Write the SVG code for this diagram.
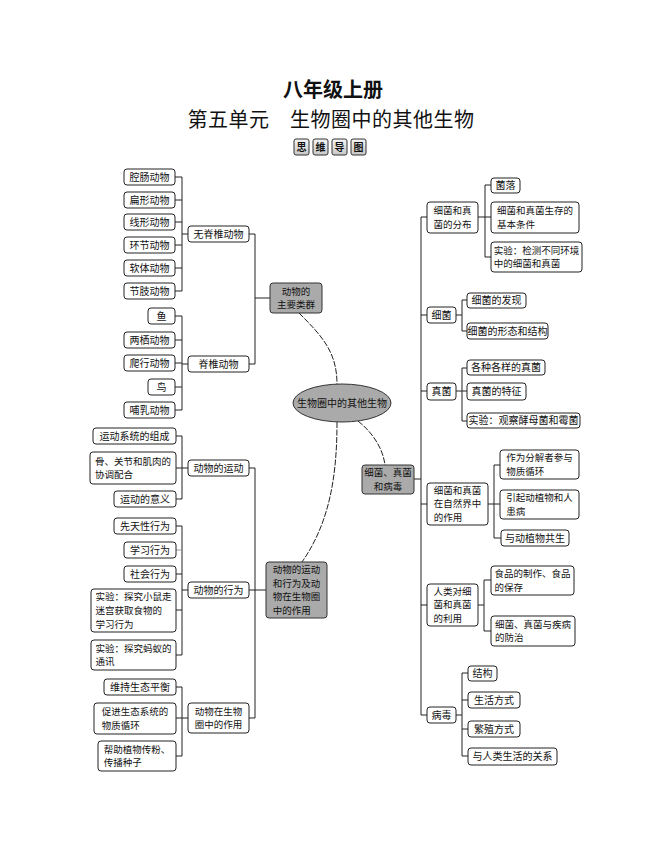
<svg xmlns="http://www.w3.org/2000/svg" width="662" height="867" viewBox="0 0 662 867">
<defs>
<linearGradient id="btn" x1="0" y1="0" x2="0" y2="1">
<stop offset="0" stop-color="#f4f4f4"/>
<stop offset="1" stop-color="#c8c8c8"/>
</linearGradient>
<style>
.b{fill:#fff;stroke:#222;stroke-width:1}
.g{fill:#aaaaaa;stroke:#333;stroke-width:1}
.t{font-family:"Noto Sans CJK SC","Noto Sans",sans-serif;font-size:10px;fill:#111}
.s{font-family:"Noto Sans CJK SC","Noto Sans",sans-serif;font-size:9.5px;fill:#111}
.m{text-anchor:middle}
.c{fill:none;stroke:#222;stroke-width:1}
.d{fill:none;stroke:#222;stroke-width:1;stroke-dasharray:6 1.5}
.btnr{fill:url(#btn);stroke:#333;stroke-width:1}
.btnt{font-family:"Noto Sans CJK SC","Noto Sans",sans-serif;font-size:10px;font-weight:bold;text-anchor:middle;fill:#111}
</style>
</defs>
<rect width="662" height="867" fill="#fff"/>
<g id="title">
<text x="333" y="97.4" text-anchor="middle" font-family="Noto Sans CJK SC, sans-serif" font-size="20" font-weight="bold" fill="#111">八年级上册</text>
<text x="331" y="126.5" text-anchor="middle" font-family="Noto Sans CJK SC, sans-serif" font-size="20" letter-spacing="0.5" fill="#111">第五单元　生物圈中的其他生物</text>
<rect class="btnr" x="294" y="139" width="15" height="16" rx="2"/><text class="btnt" x="301.5" y="151">思</text>
<rect class="btnr" x="313" y="139" width="15" height="16" rx="2"/><text class="btnt" x="320.5" y="151">维</text>
<rect class="btnr" x="332" y="139" width="15" height="16" rx="2"/><text class="btnt" x="339.5" y="151">导</text>
<rect class="btnr" x="351" y="139" width="15" height="16" rx="2"/><text class="btnt" x="358.5" y="151">图</text>
</g>
<g id="connectors">
<path class="c" d="M175,177H182M175,200H182M175,222H182M175,245H182M175,268H182M175,291H182M182,177V291M182,234H188"/>
<path class="c" d="M175,316H182M175,340H182M175,363H182M175,387H182M175,410H182M182,316V410M182,364H188"/>
<path class="c" d="M249,234H255M249,364H255M255,234V364M255,298H270"/>
<path class="c" d="M176,436H182M176,468H182M176,499H182M182,436V499M182,468H188"/>
<path class="c" d="M176,526H182M176,574H182M176,610H182M176,655H182M182,526V655M182,590H188"/>
<path d="M176,550H182" fill="none" stroke="#999" stroke-width="1"/>
<path class="c" d="M176,687H182M176,718H182M176,756H182M182,687V756M182,718H188"/>
<path class="c" d="M249,468H255M249,590H255M249,718H255M255,468V718M255,590H266"/>
<path class="c" d="M414,479H421M421,217V715M421,217H427M421,315H427M421,391H427M421,504H427M421,605H427M421,715H427"/>
<path class="c" d="M478,217H485M485,185V257M485,185H491M485,217H491M485,257H491"/>
<path class="c" d="M456,315H462M462,300V331M462,300H467M462,331H467"/>
<path class="c" d="M456,391H462M462,368V421M462,368H467M462,391H467M462,421H467"/>
<path class="c" d="M488,504H494M494,465V538M494,465H500M494,504H500M494,538H501"/>
<path class="c" d="M478,605H484M484,580V631M484,580H491M484,631H491"/>
<path class="c" d="M456,715H462M462,673V756M462,673H468M462,700H468M462,729H468M462,756H468"/>
<path class="d" d="M299,313C322,336 337,352 337,384"/>
<path class="d" d="M337,422C337,475 330,522 302,562"/>
<path class="d" d="M358,421C372,432 383,448 385,465"/>
</g>
<g id="center">
<ellipse cx="342" cy="403" rx="49" ry="19" class="g"/>
<text class="t m" x="342" y="406.5">生物圈中的其他生物</text>
</g>
<g id="n-g1"><rect class="g" x="270" y="283" width="52" height="30" rx="3"/><text class="s m" x="296" y="294.5">动物的<tspan x="296" dy="13.8">主要类群</tspan></text></g>
<g id="n-a1"><rect class="b" x="124" y="169" width="51" height="16" rx="3"/><text class="t m" x="149.5" y="180.5">腔肠动物</text></g>
<g id="n-a2"><rect class="b" x="124" y="192" width="51" height="16" rx="3"/><text class="t m" x="149.5" y="203.5">扁形动物</text></g>
<g id="n-a3"><rect class="b" x="124" y="214" width="51" height="16" rx="3"/><text class="t m" x="149.5" y="225.5">线形动物</text></g>
<g id="n-a4"><rect class="b" x="124" y="237" width="51" height="16" rx="3"/><text class="t m" x="149.5" y="248.5">环节动物</text></g>
<g id="n-a5"><rect class="b" x="124" y="260" width="51" height="16" rx="3"/><text class="t m" x="149.5" y="271.5">软体动物</text></g>
<g id="n-a6"><rect class="b" x="124" y="283" width="51" height="16" rx="3"/><text class="t m" x="149.5" y="294.5">节肢动物</text></g>
<g id="n-b1"><rect class="b" x="188" y="226" width="61" height="16" rx="3"/><text class="t m" x="218.5" y="237.5">无脊椎动物</text></g>
<g id="n-b2"><rect class="b" x="148" y="308" width="27" height="16" rx="3"/><text class="t m" x="161.5" y="319.5">鱼</text></g>
<g id="n-b3"><rect class="b" x="124" y="332" width="51" height="16" rx="3"/><text class="t m" x="149.5" y="343.5">两栖动物</text></g>
<g id="n-b4"><rect class="b" x="124" y="355" width="51" height="16" rx="3"/><text class="t m" x="149.5" y="366.5">爬行动物</text></g>
<g id="n-b5"><rect class="b" x="148" y="379" width="27" height="16" rx="3"/><text class="t m" x="161.5" y="390.5">鸟</text></g>
<g id="n-b6"><rect class="b" x="124" y="402" width="51" height="16" rx="3"/><text class="t m" x="149.5" y="413.5">哺乳动物</text></g>
<g id="n-b7"><rect class="b" x="188" y="356" width="61" height="16" rx="3"/><text class="t m" x="218.5" y="367.5">脊椎动物</text></g>
<g id="n-g2"><rect class="g" x="266" y="562" width="61" height="56" rx="3"/><text class="s" x="272.75" y="572.7">动物的运动<tspan x="272.75" dy="13.8">和行为及动</tspan><tspan x="272.75" dy="13.8">物在生物圈</tspan><tspan x="272.75" dy="13.8">中的作用</tspan></text></g>
<g id="n-c1"><rect class="b" x="93" y="428" width="83" height="16" rx="3"/><text class="t m" x="134.5" y="439.5">运动系统的组成</text></g>
<g id="n-c2"><rect class="b" x="90" y="452" width="86" height="32" rx="3"/><text class="s" x="95" y="464.5">骨、关节和肌肉的<tspan x="95" dy="13.8">协调配合</tspan></text></g>
<g id="n-c3"><rect class="b" x="114" y="491" width="62" height="16" rx="3"/><text class="t m" x="145" y="502.5">运动的意义</text></g>
<g id="n-d1"><rect class="b" x="188" y="460" width="61" height="16" rx="3"/><text class="t m" x="218.5" y="471.5">动物的运动</text></g>
<g id="n-c4"><rect class="b" x="114" y="518" width="62" height="16" rx="3"/><text class="t m" x="145" y="529.5">先天性行为</text></g>
<g id="n-c5"><rect class="b" x="124" y="542" width="52" height="16" rx="3"/><text class="t m" x="150" y="553.5">学习行为</text></g>
<g id="n-c6"><rect class="b" x="124" y="566" width="52" height="16" rx="3"/><text class="t m" x="150" y="577.5">社会行为</text></g>
<g id="n-c7"><rect class="b" x="91" y="589" width="85" height="43" rx="3"/><text class="s" x="95.5" y="600.1">实验：探究小鼠走<tspan x="95.5" dy="13.8">迷宫获取食物的</tspan><tspan x="95.5" dy="13.8">学习行为</tspan></text></g>
<g id="n-c8"><rect class="b" x="91" y="640" width="85" height="30" rx="3"/><text class="s" x="95.5" y="651.5">实验：探究蚂蚁的<tspan x="95.5" dy="13.8">通讯</tspan></text></g>
<g id="n-d2"><rect class="b" x="188" y="582" width="61" height="16" rx="3"/><text class="t m" x="218.5" y="593.5">动物的行为</text></g>
<g id="n-c9"><rect class="b" x="104" y="679" width="72" height="16" rx="3"/><text class="t m" x="140" y="690.5">维持生态平衡</text></g>
<g id="n-c10"><rect class="b" x="94" y="703" width="82" height="31" rx="3"/><text class="s" x="101.75" y="715">促进生态系统的<tspan x="101.75" dy="13.8">物质循环</tspan></text></g>
<g id="n-c11"><rect class="b" x="98" y="741" width="78" height="30" rx="3"/><text class="s" x="103.75" y="752.5">帮助植物传粉、<tspan x="103.75" dy="13.8">传播种子</tspan></text></g>
<g id="n-d3"><rect class="b" x="188" y="703" width="61" height="30" rx="3"/><text class="s" x="194.75" y="714.5">动物在生物<tspan x="194.75" dy="13.8">圈中的作用</tspan></text></g>
<g id="n-g3"><rect class="g" x="362" y="465" width="52" height="29" rx="3"/><text class="s m" x="388" y="476">细菌、真菌<tspan x="388" dy="13.8">和病毒</tspan></text></g>
<g id="n-r1"><rect class="b" x="427" y="202" width="51" height="31" rx="3"/><text class="s" x="433.5" y="214">细菌和真<tspan x="433.5" dy="13.8">菌的分布</tspan></text></g>
<g id="n-s1"><rect class="b" x="491" y="178" width="29" height="15" rx="3"/><text class="t m" x="505.5" y="189">菌落</text></g>
<g id="n-s2"><rect class="b" x="491" y="202" width="88" height="31" rx="3"/><text class="s" x="497" y="214">细菌和真菌生存的<tspan x="497" dy="13.8">基本条件</tspan></text></g>
<g id="n-s3"><rect class="b" x="491" y="242" width="91" height="30" rx="3"/><text class="s" x="493.75" y="253.5">实验：检测不同环境<tspan x="493.75" dy="13.8">中的细菌和真菌</tspan></text></g>
<g id="n-r2"><rect class="b" x="427" y="307" width="29" height="16" rx="3"/><text class="t m" x="441.5" y="318.5">细菌</text></g>
<g id="n-s4"><rect class="b" x="467" y="293" width="59" height="15" rx="3"/><text class="t m" x="496.5" y="304">细菌的发现</text></g>
<g id="n-s5"><rect class="b" x="467" y="323" width="81" height="16" rx="3"/><text class="t m" x="507.5" y="334.5">细菌的形态和结构</text></g>
<g id="n-r3"><rect class="b" x="427" y="383" width="29" height="17" rx="3"/><text class="t m" x="441.5" y="395">真菌</text></g>
<g id="n-s6"><rect class="b" x="467" y="360" width="78" height="15" rx="3"/><text class="t m" x="506" y="371">各种各样的真菌</text></g>
<g id="n-s7"><rect class="b" x="467" y="383" width="59" height="17" rx="3"/><text class="t m" x="496.5" y="395">真菌的特征</text></g>
<g id="n-s8"><rect class="b" x="467" y="413" width="113" height="15" rx="3"/><text class="t m" x="523.5" y="424">实验：观察酵母菌和霉菌</text></g>
<g id="n-r4"><rect class="b" x="427" y="483" width="61" height="42" rx="3"/><text class="s" x="433.75" y="493.6">细菌和真菌<tspan x="433.75" dy="13.8">在自然界中</tspan><tspan x="433.75" dy="13.8">的作用</tspan></text></g>
<g id="n-s9"><rect class="b" x="500" y="450" width="79" height="29" rx="3"/><text class="s" x="506.25" y="461">作为分解者参与<tspan x="506.25" dy="13.8">物质循环</tspan></text></g>
<g id="n-s10"><rect class="b" x="500" y="490" width="79" height="29" rx="3"/><text class="s" x="506.25" y="501">引起动植物和人<tspan x="506.25" dy="13.8">患病</tspan></text></g>
<g id="n-s11"><rect class="b" x="501" y="530" width="68" height="16" rx="3"/><text class="t m" x="535" y="541.5">与动植物共生</text></g>
<g id="n-r5"><rect class="b" x="427" y="584" width="51" height="42" rx="3"/><text class="s" x="433.5" y="594.6">人类对细<tspan x="433.5" dy="13.8">菌和真菌</tspan><tspan x="433.5" dy="13.8">的利用</tspan></text></g>
<g id="n-s12"><rect class="b" x="491" y="566" width="83" height="29" rx="3"/><text class="s" x="494.5" y="577">食品的制作、食品<tspan x="494.5" dy="13.8">的保存</tspan></text></g>
<g id="n-s13"><rect class="b" x="491" y="616" width="84" height="30" rx="3"/><text class="s" x="495" y="627.5">细菌、真菌与疾病<tspan x="495" dy="13.8">的防治</tspan></text></g>
<g id="n-r6"><rect class="b" x="427" y="707" width="29" height="16" rx="3"/><text class="t m" x="441.5" y="718.5">病毒</text></g>
<g id="n-s14"><rect class="b" x="468" y="666" width="29" height="15" rx="3"/><text class="t m" x="482.5" y="677">结构</text></g>
<g id="n-s15"><rect class="b" x="468" y="692" width="52" height="16" rx="3"/><text class="t m" x="494" y="703.5">生活方式</text></g>
<g id="n-s16"><rect class="b" x="468" y="721" width="52" height="16" rx="3"/><text class="t m" x="494" y="732.5">繁殖方式</text></g>
<g id="n-s17"><rect class="b" x="468" y="748" width="89" height="17" rx="3"/><text class="t m" x="512.5" y="760">与人类生活的关系</text></g>
</svg>
